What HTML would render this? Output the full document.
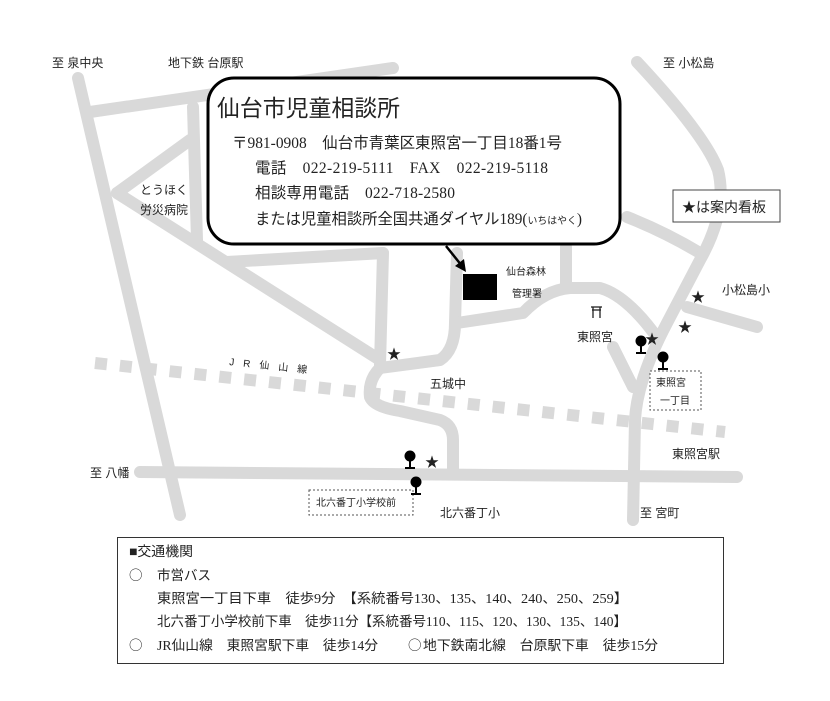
<!DOCTYPE html>
<html><head><meta charset="utf-8"><style>
html,body{margin:0;padding:0;background:#fff}
svg{display:block}
text{font-family:"Liberation Sans","Noto Sans CJK JP",sans-serif;fill:#222}
.s{font-family:"Liberation Serif","Noto Sans CJK JP",serif}
.c{font-family:"Noto Sans CJK JP",sans-serif}
</style></head><body>
<svg width="830" height="701" viewBox="0 0 830 701" xmlns="http://www.w3.org/2000/svg">
<g fill="none" stroke="#d9d9d9" stroke-width="12" stroke-linecap="round" stroke-linejoin="round">
<path d="M78,78 L180,515"/>
<path d="M90,112 L393,68"/>
<path d="M193,107 L197,240"/>
<path d="M117,193 L190,140"/>
<path d="M117,193 L380,360"/>
<path d="M227,262 L383,253"/>
<path d="M383,253 L380,365"/>
<path d="M380,368 L440,360 Q455,350 455,323 L457,253"/>
<path d="M380,368 Q368,380 370,397 Q374,407 400,411 L440,420 Q453,425 453,440 L453,472"/>
<path d="M457,323 L523,313 Q545,290 570,288 L600,288 Q625,295 653,332"/>
<path d="M566,247 L566,288"/>
<path d="M627,217 Q665,232 700,253"/>
<path d="M637,62 Q705,135 718,170 Q728,210 700,260 L667,323 Q637,380 635,420 L633,520"/>
<path d="M687,307 L757,327"/>
<path d="M613,347 L633,387"/>
<path d="M140,472 L737,477"/>
</g>
<path d="M95,363 L725,432" stroke="#d9d9d9" stroke-width="12" stroke-dasharray="12,13" fill="none"/>
<rect x="208" y="78" width="412" height="166" rx="26" fill="#fff" stroke="#000" stroke-width="3"/>
<line x1="446" y1="246" x2="462" y2="266" stroke="#000" stroke-width="2.5"/>
<path d="M466,272 L455,266 L464,259 Z" fill="#000"/>
<rect x="463" y="274" width="34" height="26" fill="#000"/>
<text x="217" y="116" font-size="23" textLength="183" lengthAdjust="spacingAndGlyphs">仙台市児童相談所</text>
<text class="s" x="232" y="148" font-size="15.5" textLength="330" lengthAdjust="spacingAndGlyphs">〒981-0908　仙台市青葉区東照宮一丁目18番1号</text>
<text class="s" x="255" y="173" font-size="15.5" textLength="293" lengthAdjust="spacing">電話　022-219-5111　FAX　022-219-5118</text>
<text class="s" x="255" y="198" font-size="15.5" textLength="200" lengthAdjust="spacing">相談専用電話　022-718-2580</text>
<text class="s" x="255" y="224" font-size="15.5" textLength="327" lengthAdjust="spacingAndGlyphs">または児童相談所全国共通ダイヤル189(<tspan font-size="10">いちはやく</tspan>)</text>
<g font-size="12">
<text x="52" y="67">至 泉中央</text>
<text x="168" y="67">地下鉄 台原駅</text>
<text x="663" y="67">至 小松島</text>
<text x="140" y="194">とうほく</text>
<text x="140" y="214">労災病院</text>
<text x="722" y="294">小松島小</text>
<text x="577" y="341">東照宮</text>
<text x="430" y="388">五城中</text>
<text x="90" y="477">至 八幡</text>
<text x="672" y="458">東照宮駅</text>
<text x="440" y="517">北六番丁小</text>
<text x="640" y="517">至 宮町</text>
</g>
<g stroke="#222" stroke-width="1.3" fill="none">
<line x1="591" y1="307" x2="602" y2="307"/><line x1="593" y1="307" x2="593" y2="318"/><line x1="600" y1="307" x2="600" y2="318"/><line x1="592" y1="310" x2="601" y2="310"/>
</g>
<g font-size="10">
<text x="506" y="275">仙台森林</text>
<text x="512" y="297">管理署</text>
<text x="229" y="365" transform="rotate(6 229 365)" letter-spacing="9">JR仙山線</text>
</g>
<rect x="673" y="190" width="107" height="32" fill="#fff" stroke="#444" stroke-width="1"/>
<text x="682" y="212" font-size="14">★は案内看板</text>
<rect x="650" y="371" width="51" height="39" fill="#fff" stroke="#555" stroke-width="1" stroke-dasharray="2,2"/>
<text x="656" y="386" font-size="10">東照宮</text>
<text x="660" y="404" font-size="10">一丁目</text>
<rect x="309" y="490" width="104" height="25" fill="#fff" stroke="#555" stroke-width="1" stroke-dasharray="2,2"/>
<text x="316" y="506" font-size="10">北六番丁小学校前</text>
<g font-size="14" fill="#000">
<text x="387" y="359">★</text><text x="425" y="467">★</text><text x="645" y="344">★</text><text x="678" y="332">★</text><text x="691" y="302">★</text>
</g>
<g fill="#000" stroke="#000">
<g transform="translate(410,460)"><circle cx="0" cy="-4" r="5"/><line x1="0" y1="0" x2="0" y2="8" stroke-width="2"/><line x1="-5" y1="8" x2="5" y2="8" stroke-width="2"/></g>
<g transform="translate(416,486)"><circle cx="0" cy="-4" r="5"/><line x1="0" y1="0" x2="0" y2="8" stroke-width="2"/><line x1="-5" y1="8" x2="5" y2="8" stroke-width="2"/></g>
<g transform="translate(641,345)"><circle cx="0" cy="-4" r="5"/><line x1="0" y1="0" x2="0" y2="8" stroke-width="2"/><line x1="-5" y1="8" x2="5" y2="8" stroke-width="2"/></g>
<g transform="translate(663,361)"><circle cx="0" cy="-4" r="5"/><line x1="0" y1="0" x2="0" y2="8" stroke-width="2"/><line x1="-5" y1="8" x2="5" y2="8" stroke-width="2"/></g>
</g>
<rect x="117.5" y="537.5" width="606" height="126" fill="#fff" stroke="#333" stroke-width="1"/>
<g font-size="13.5">
<text class="s" x="129" y="556" textLength="64" lengthAdjust="spacingAndGlyphs">■交通機関</text>
<text class="c" x="129" y="580">○</text>
<text class="s" x="157" y="580">市営バス</text>
<text class="s" x="157" y="603" textLength="471" lengthAdjust="spacingAndGlyphs">東照宮一丁目下車　徒歩9分　【系統番号130、135、140、240、250、259】</text>
<text class="s" x="157" y="626" textLength="470" lengthAdjust="spacingAndGlyphs">北六番丁小学校前下車　徒歩11分【系統番号110、115、120、130、135、140】</text>
<text class="c" x="129" y="650">○</text>
<text class="s" x="157" y="650" textLength="221" lengthAdjust="spacingAndGlyphs">JR仙山線　東照宮駅下車　徒歩14分</text>
<text class="c" x="408" y="650">○</text>
<text class="s" x="423" y="650" textLength="235" lengthAdjust="spacingAndGlyphs">地下鉄南北線　台原駅下車　徒歩15分</text>
</g>
</svg>
</body></html>
